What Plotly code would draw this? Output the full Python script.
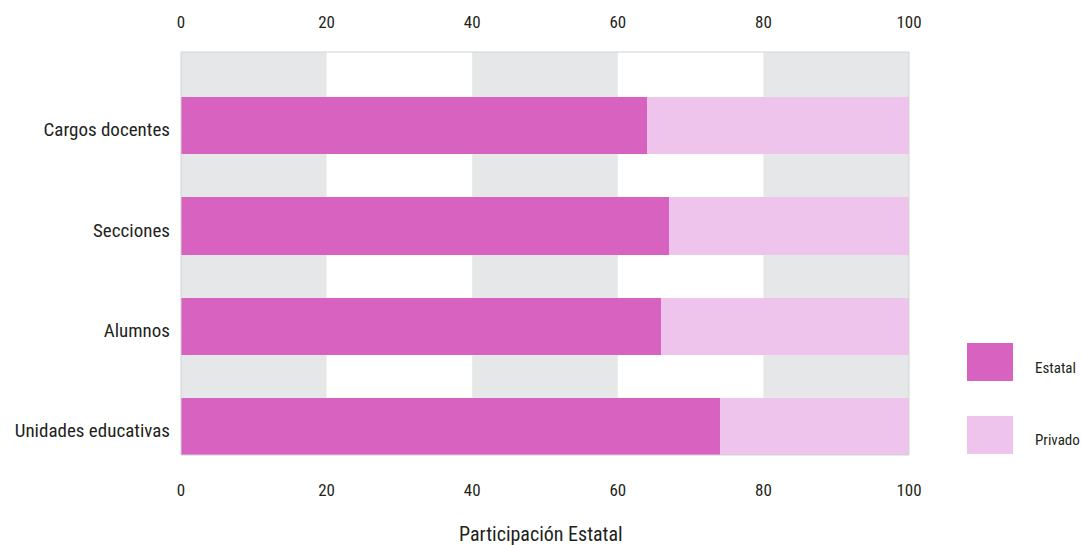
import plotly.graph_objects as go

categories = ["Cargos docentes", "Secciones", "Alumnos", "Unidades educativas"]
estatal = [64.0, 67.0, 66.0, 74.0]
privado = [36.0, 33.0, 34.0, 26.0]
x_ticks = [0, 20, 40, 60, 80, 100]
series_names = ["Estatal", "Privado"]

C_EST = "#D762BF"
C_PRI = "#EEC4EC"
C_BAND = "#E6E7E8"
C_TXT = "#231F20"
FONT = "Liberation Sans Narrow, Arial Narrow, Roboto Condensed, Roboto, sans-serif"

fig = go.Figure()
fig.add_trace(go.Bar(y=categories, x=estatal, orientation="h", name=series_names[0],
                     marker=dict(color=C_EST, line=dict(width=0)), showlegend=False))
fig.add_trace(go.Bar(y=categories, x=privado, orientation="h", name=series_names[1],
                     marker=dict(color=C_PRI, line=dict(width=0)), showlegend=False))
# invisible trace for the top axis
fig.add_trace(go.Scatter(x=[0, 100], y=[categories[0], categories[0]], xaxis="x2",
                         mode="markers", marker=dict(opacity=0), showlegend=False,
                         hoverinfo="skip"))

shapes = []
for a in (0, 40, 80):
    shapes.append(dict(type="rect", xref="x", yref="paper", x0=a, x1=a + 20, y0=0, y1=1,
                       fillcolor=C_BAND, line=dict(width=0), layer="below"))
shapes.append(dict(type="rect", xref="paper", yref="paper", x0=0, x1=1, y0=0, y1=1,
                   line=dict(color="#D1D3D4", width=1), layer="above"))

# legend boxes (paper coordinates)
W, H = 1082, 545
L, R, T, B = 181, 173, 52, 90
pw, ph = W - L - R, H - T - B
def px(x):
    return (x - L) / pw
def py(y):
    return (H - B - y) / ph

annotations = []
for (y0, y1, col, name, ty) in [(343, 381, C_EST, series_names[0], 368),
                                (416, 454, C_PRI, series_names[1], 440)]:
    shapes.append(dict(type="rect", xref="paper", yref="paper", x0=px(967), x1=px(1013),
                       y0=py(y1), y1=py(y0), fillcolor=col, line=dict(width=0)))
    annotations.append(dict(xref="paper", yref="paper", x=px(1033), y=py(ty), text=name,
                            showarrow=False, xanchor="left", yanchor="middle",
                            font=dict(family=FONT, size=15, color=C_TXT)))

annotations.append(dict(xref="paper", yref="paper", x=px(541), y=py(534),
                        text="Participación Estatal", showarrow=False,
                        xanchor="center", yanchor="middle",
                        font=dict(family=FONT, size=20, color=C_TXT)))

fig.update_layout(
    width=W, height=H,
    margin=dict(l=L, r=R, t=T, b=B, autoexpand=False),
    barmode="stack", bargap=0.43,
    plot_bgcolor="white", paper_bgcolor="white",
    font=dict(family=FONT, color=C_TXT),
    shapes=shapes, annotations=annotations,
    xaxis=dict(range=[0, 100], tickvals=x_ticks, showgrid=False, zeroline=False,
               ticks="outside", ticklen=20, tickcolor="rgba(0,0,0,0)",
               tickfont=dict(family=FONT, size=17, color=C_TXT), fixedrange=True),
    xaxis2=dict(range=[0, 100], tickvals=x_ticks, overlaying="x", side="top",
                showgrid=False, zeroline=False, ticks="outside", ticklen=16,
                tickcolor="rgba(0,0,0,0)", anchor="y",
                tickfont=dict(family=FONT, size=17, color=C_TXT)),
    yaxis=dict(categoryorder="array", categoryarray=categories, range=[3.284, -0.734],
               showgrid=False, zeroline=False, ticks="", ticklabelstandoff=10,
               ticklabelshift=-4,
               tickfont=dict(family=FONT, size=19, color=C_TXT)),
)

fig.write_html("out.html", config={"displayModeBar": False},
               post_script="document.body.style.margin='0';document.body.style.overflow='hidden';")
